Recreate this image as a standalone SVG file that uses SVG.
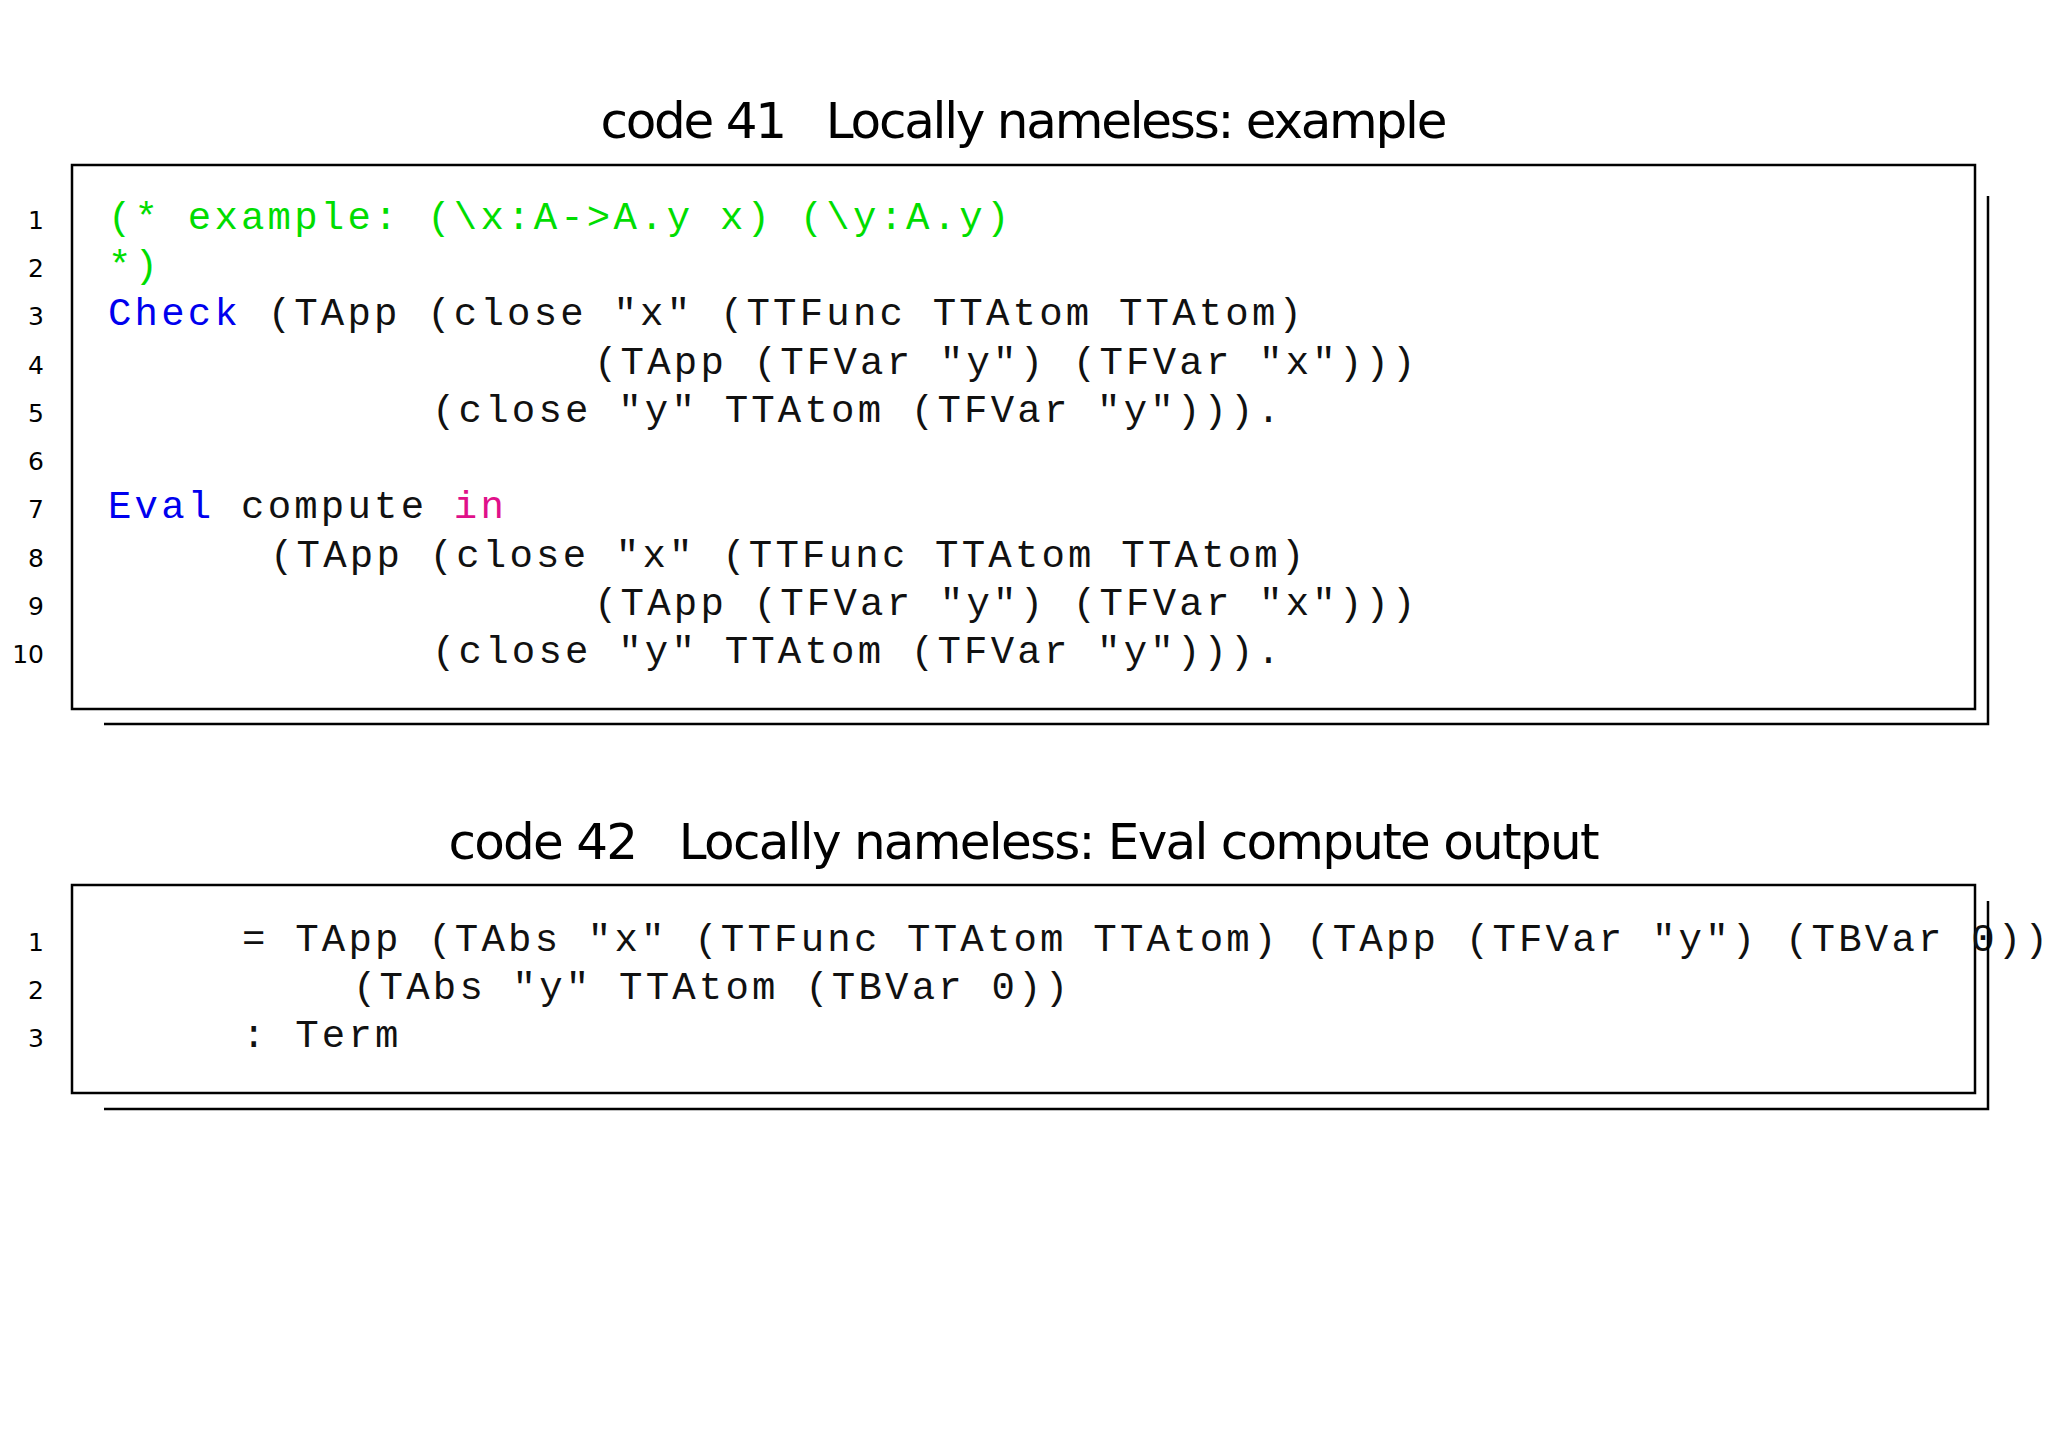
<svg xmlns="http://www.w3.org/2000/svg" width="2048" height="1448" viewBox="0 0 2048 1448">
<style>
.t{font-family:"DejaVu Sans","Liberation Sans",sans-serif;font-size:50px;fill:#000}
.n{font-family:"DejaVu Sans","Liberation Sans",sans-serif;font-size:25px;fill:#000;text-anchor:end}
.c{font-family:"Liberation Mono",monospace;font-size:39px;letter-spacing:3.2px;fill:#111;white-space:pre}
.g{fill:#00dd00}.b{fill:#0000ee}.m{fill:#e0108a}
.box{fill:#fff;stroke:#000;stroke-width:2.5}
.sh{fill:none;stroke:#000;stroke-width:2.5}
</style>
<rect width="2048" height="1448" fill="#fff"/>
<g id="code41">
<text class="t" x="1024" y="138" text-anchor="middle" textLength="847" xml:space="preserve">code 41   Locally nameless: example</text>
<polyline class="sh" points="1988,196 1988,724 104,724"/>
<rect class="box" x="72" y="165" width="1903" height="544"/>
<g class="n"><text x="44" y="229">1</text><text x="44" y="277">2</text><text x="44" y="325">3</text><text x="44" y="374">4</text><text x="44" y="422">5</text><text x="44" y="470">6</text><text x="44" y="518">7</text><text x="44" y="567">8</text><text x="44" y="615">9</text><text x="44" y="663">10</text></g>
<g class="c" xml:space="preserve">
<text x="108" y="229" class="c g">(* example: (\x:A-&gt;A.y x) (\y:A.y)</text>
<text x="108" y="277" class="c g">*)</text>
<text x="108" y="325"><tspan class="b">Check</tspan> (TApp (close "x" (TTFunc TTAtom TTAtom)</text>
<text x="594" y="374">(TApp (TFVar "y") (TFVar "x")))</text>
<text x="432" y="422">(close "y" TTAtom (TFVar "y"))).</text>
<text x="108" y="518"><tspan class="b">Eval</tspan> compute <tspan class="m">in</tspan></text>
<text x="270" y="567">(TApp (close "x" (TTFunc TTAtom TTAtom)</text>
<text x="594" y="615">(TApp (TFVar "y") (TFVar "x")))</text>
<text x="432" y="663">(close "y" TTAtom (TFVar "y"))).</text>
</g>
</g>
<g id="code42">
<text class="t" x="1024" y="859" text-anchor="middle" textLength="1151" xml:space="preserve">code 42   Locally nameless: Eval compute output</text>
<rect class="box" x="72" y="885" width="1903" height="208"/>
<g class="n"><text x="44" y="951">1</text><text x="44" y="999">2</text><text x="44" y="1047">3</text></g>
<g class="c" xml:space="preserve">
<text x="242" y="951">= TApp (TAbs "x" (TTFunc TTAtom TTAtom) (TApp (TFVar "y") (TBVar 0))</text>
<text x="353" y="999">(TAbs "y" TTAtom (TBVar 0))</text>
<text x="242" y="1047">: Term</text>
</g>
<polyline class="sh" points="1988,901 1988,1109 104,1109"/>
</g>
</svg>
